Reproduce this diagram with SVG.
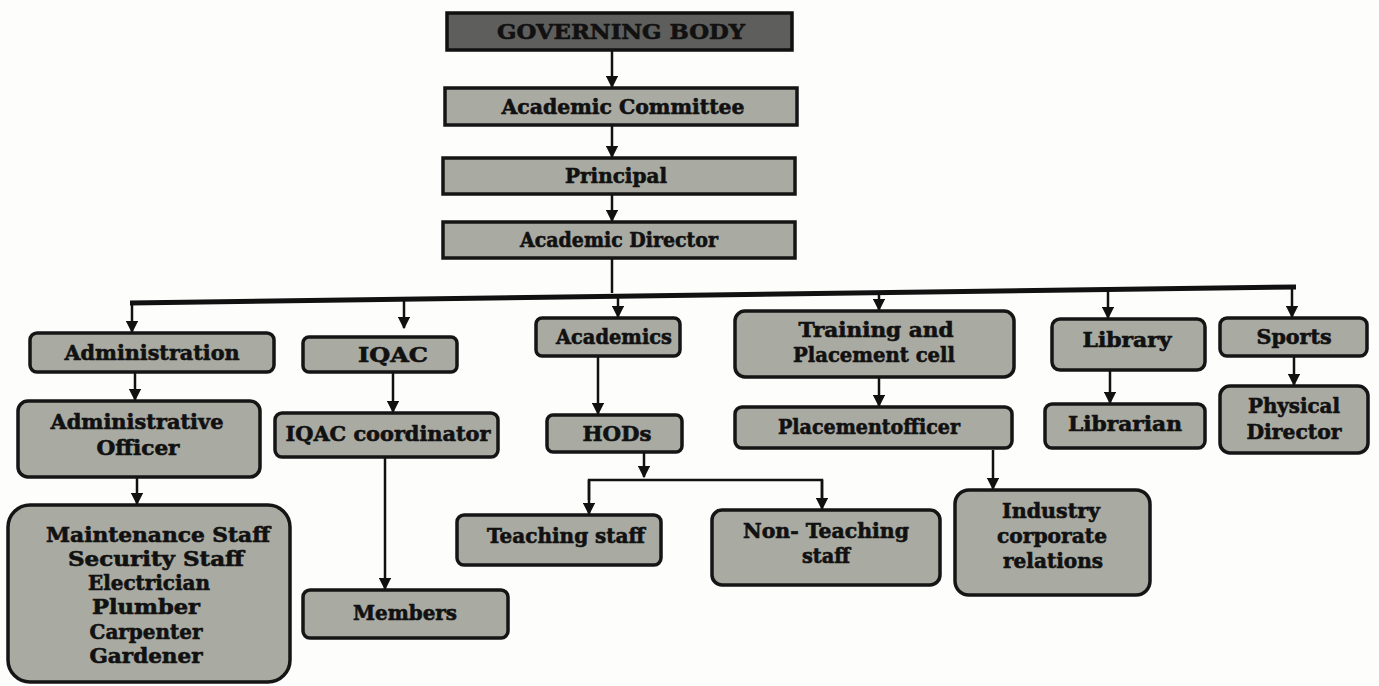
<svg xmlns="http://www.w3.org/2000/svg" width="1379" height="686" viewBox="0 0 1379 686">
<defs>
<marker id="ah" viewBox="0 0 10 10" refX="9" refY="5" markerWidth="5" markerHeight="5" orient="auto" markerUnits="strokeWidth">
<path d="M0,0 L10,5 L0,10 z" fill="#111"/>
</marker>
</defs>
<style>
.b{fill:#a9aaa2;stroke:#151515;stroke-width:3.5}
.d{fill:#5e5e5c;stroke:#111;stroke-width:3.5}
.t{font-family:"DejaVu Serif","Liberation Serif",serif;font-weight:bold;font-size:20px;fill:#111;stroke:#111;stroke-width:0.6;text-anchor:middle}
.c{stroke:#111;stroke-width:2.5;fill:none}
.ca{stroke:#111;stroke-width:2.5;fill:none;marker-end:url(#ah)}
</style>
<rect width="1379" height="686" fill="#fdfdfc"/>
<g id="connectors">
<line class="ca" x1="612" y1="50" x2="612" y2="87"/>
<line class="ca" x1="612" y1="125" x2="612" y2="157"/>
<line class="ca" x1="612" y1="194" x2="612" y2="221"/>
<line class="c" x1="612" y1="258" x2="612" y2="293"/>
<line x1="130" y1="303" x2="1296" y2="287" stroke="#111" stroke-width="5"/>
<line class="ca" x1="132" y1="302" x2="132" y2="332"/>
<line class="ca" x1="404" y1="298" x2="404" y2="328"/>
<line class="ca" x1="618" y1="296" x2="618" y2="317"/>
<line class="ca" x1="879" y1="291" x2="879" y2="310"/>
<line class="ca" x1="1108" y1="289" x2="1108" y2="318"/>
<line class="ca" x1="1292" y1="288" x2="1292" y2="317"/>
<line class="ca" x1="135" y1="372" x2="135" y2="400"/>
<line class="ca" x1="393" y1="372" x2="393" y2="412"/>
<line class="ca" x1="598" y1="356" x2="598" y2="414"/>
<line class="ca" x1="879" y1="377" x2="879" y2="406"/>
<line class="ca" x1="1110" y1="370" x2="1110" y2="403"/>
<line class="ca" x1="1294" y1="356" x2="1294" y2="385"/>
<line class="ca" x1="137" y1="477" x2="137" y2="504"/>
<line class="ca" x1="385" y1="458" x2="385" y2="589"/>
<line class="ca" x1="644" y1="452" x2="644" y2="477"/>
<polyline class="c" points="589,500 589,480 822,480 822,500"/>
<line class="ca" x1="589" y1="480" x2="589" y2="514"/>
<line class="ca" x1="822" y1="480" x2="822" y2="509"/>
<line class="ca" x1="993" y1="450" x2="993" y2="489"/>
</g>
<g id="governing-body"><rect class="d" x="447" y="13" width="345" height="37"/><text class="t" x="621" y="39" textLength="248" lengthAdjust="spacingAndGlyphs">GOVERNING BODY</text></g>
<g id="academic-committee"><rect class="b" x="445" y="88" width="352" height="37"/><text class="t" x="623" y="114" textLength="243" lengthAdjust="spacingAndGlyphs">Academic Committee</text></g>
<g id="principal"><rect class="b" x="443" y="158" width="352" height="36"/><text class="t" x="616" y="183" textLength="102" lengthAdjust="spacingAndGlyphs">Principal</text></g>
<g id="academic-director"><rect class="b" x="443" y="222" width="352" height="36"/><text class="t" x="619" y="247" textLength="198" lengthAdjust="spacingAndGlyphs">Academic Director</text></g>
<g id="administration"><rect class="b" x="30" y="333" width="244" height="39" rx="7"/><text class="t" x="152" y="360" textLength="175" lengthAdjust="spacingAndGlyphs">Administration</text></g>
<g id="iqac"><rect class="b" x="303" y="337" width="154" height="35" rx="6"/><text class="t" x="393" y="362" textLength="70" lengthAdjust="spacingAndGlyphs">IQAC</text></g>
<g id="academics"><rect class="b" x="536" y="318" width="144" height="38" rx="6"/><text class="t" x="614" y="344" textLength="116" lengthAdjust="spacingAndGlyphs">Academics</text></g>
<g id="training-placement"><rect class="b" x="735" y="311" width="279" height="66" rx="10"/><text class="t" x="876" y="337" textLength="155" lengthAdjust="spacingAndGlyphs">Training and</text><text class="t" x="874" y="362" textLength="162" lengthAdjust="spacingAndGlyphs">Placement cell</text></g>
<g id="library"><rect class="b" x="1052" y="319" width="153" height="51" rx="8"/><text class="t" x="1127" y="347" textLength="89" lengthAdjust="spacingAndGlyphs">Library</text></g>
<g id="sports"><rect class="b" x="1220" y="318" width="147" height="38" rx="7"/><text class="t" x="1294" y="344" textLength="75" lengthAdjust="spacingAndGlyphs">Sports</text></g>
<g id="administrative-officer"><rect class="b" x="18" y="401" width="242" height="76" rx="10"/><text class="t" x="137" y="429" textLength="173" lengthAdjust="spacingAndGlyphs">Administrative</text><text class="t" x="138" y="455" textLength="83" lengthAdjust="spacingAndGlyphs">Officer</text></g>
<g id="iqac-coordinator"><rect class="b" x="275" y="413" width="223" height="44" rx="7"/><text class="t" x="388" y="441" textLength="205" lengthAdjust="spacingAndGlyphs">IQAC coordinator</text></g>
<g id="hods"><rect class="b" x="547" y="415" width="135" height="37" rx="6"/><text class="t" x="617" y="441" textLength="69" lengthAdjust="spacingAndGlyphs">HODs</text></g>
<g id="placement-officer"><rect class="b" x="735" y="407" width="277" height="41" rx="7"/><text class="t" x="869" y="434" textLength="182" lengthAdjust="spacingAndGlyphs">Placementofficer</text></g>
<g id="librarian"><rect class="b" x="1045" y="404" width="160" height="44" rx="7"/><text class="t" x="1125" y="431" textLength="114" lengthAdjust="spacingAndGlyphs">Librarian</text></g>
<g id="physical-director"><rect class="b" x="1220" y="386" width="148" height="67" rx="10"/><text class="t" x="1294" y="413" textLength="92" lengthAdjust="spacingAndGlyphs">Physical</text><text class="t" x="1294" y="439" textLength="95" lengthAdjust="spacingAndGlyphs">Director</text></g>
<g id="support-staff"><rect class="b" x="8" y="505" width="282" height="177" rx="22"/>
<text class="t" x="158" y="542" textLength="224" lengthAdjust="spacingAndGlyphs">Maintenance Staff</text>
<text class="t" x="156" y="566" textLength="176" lengthAdjust="spacingAndGlyphs">Security Staff</text>
<text class="t" x="149" y="590" textLength="122" lengthAdjust="spacingAndGlyphs">Electrician</text>
<text class="t" x="146" y="614" textLength="108" lengthAdjust="spacingAndGlyphs">Plumber</text>
<text class="t" x="146" y="639" textLength="113" lengthAdjust="spacingAndGlyphs">Carpenter</text>
<text class="t" x="146" y="663" textLength="113" lengthAdjust="spacingAndGlyphs">Gardener</text></g>
<g id="members"><rect class="b" x="303" y="590" width="205" height="48" rx="7"/><text class="t" x="405" y="620" textLength="104" lengthAdjust="spacingAndGlyphs">Members</text></g>
<g id="teaching-staff"><rect class="b" x="457" y="515" width="204" height="50" rx="7"/><text class="t" x="566" y="543" textLength="158" lengthAdjust="spacingAndGlyphs">Teaching staff</text></g>
<g id="non-teaching-staff"><rect class="b" x="712" y="510" width="228" height="75" rx="10"/><text class="t" x="826" y="538" textLength="166" lengthAdjust="spacingAndGlyphs">Non- Teaching</text><text class="t" x="826" y="563" textLength="48" lengthAdjust="spacingAndGlyphs">staff</text></g>
<g id="industry-relations"><rect class="b" x="955" y="490" width="195" height="105" rx="14"/><text class="t" x="1051" y="518" textLength="98" lengthAdjust="spacingAndGlyphs">Industry</text><text class="t" x="1052" y="543" textLength="110" lengthAdjust="spacingAndGlyphs">corporate</text><text class="t" x="1053" y="568" textLength="100" lengthAdjust="spacingAndGlyphs">relations</text></g>
</svg>
